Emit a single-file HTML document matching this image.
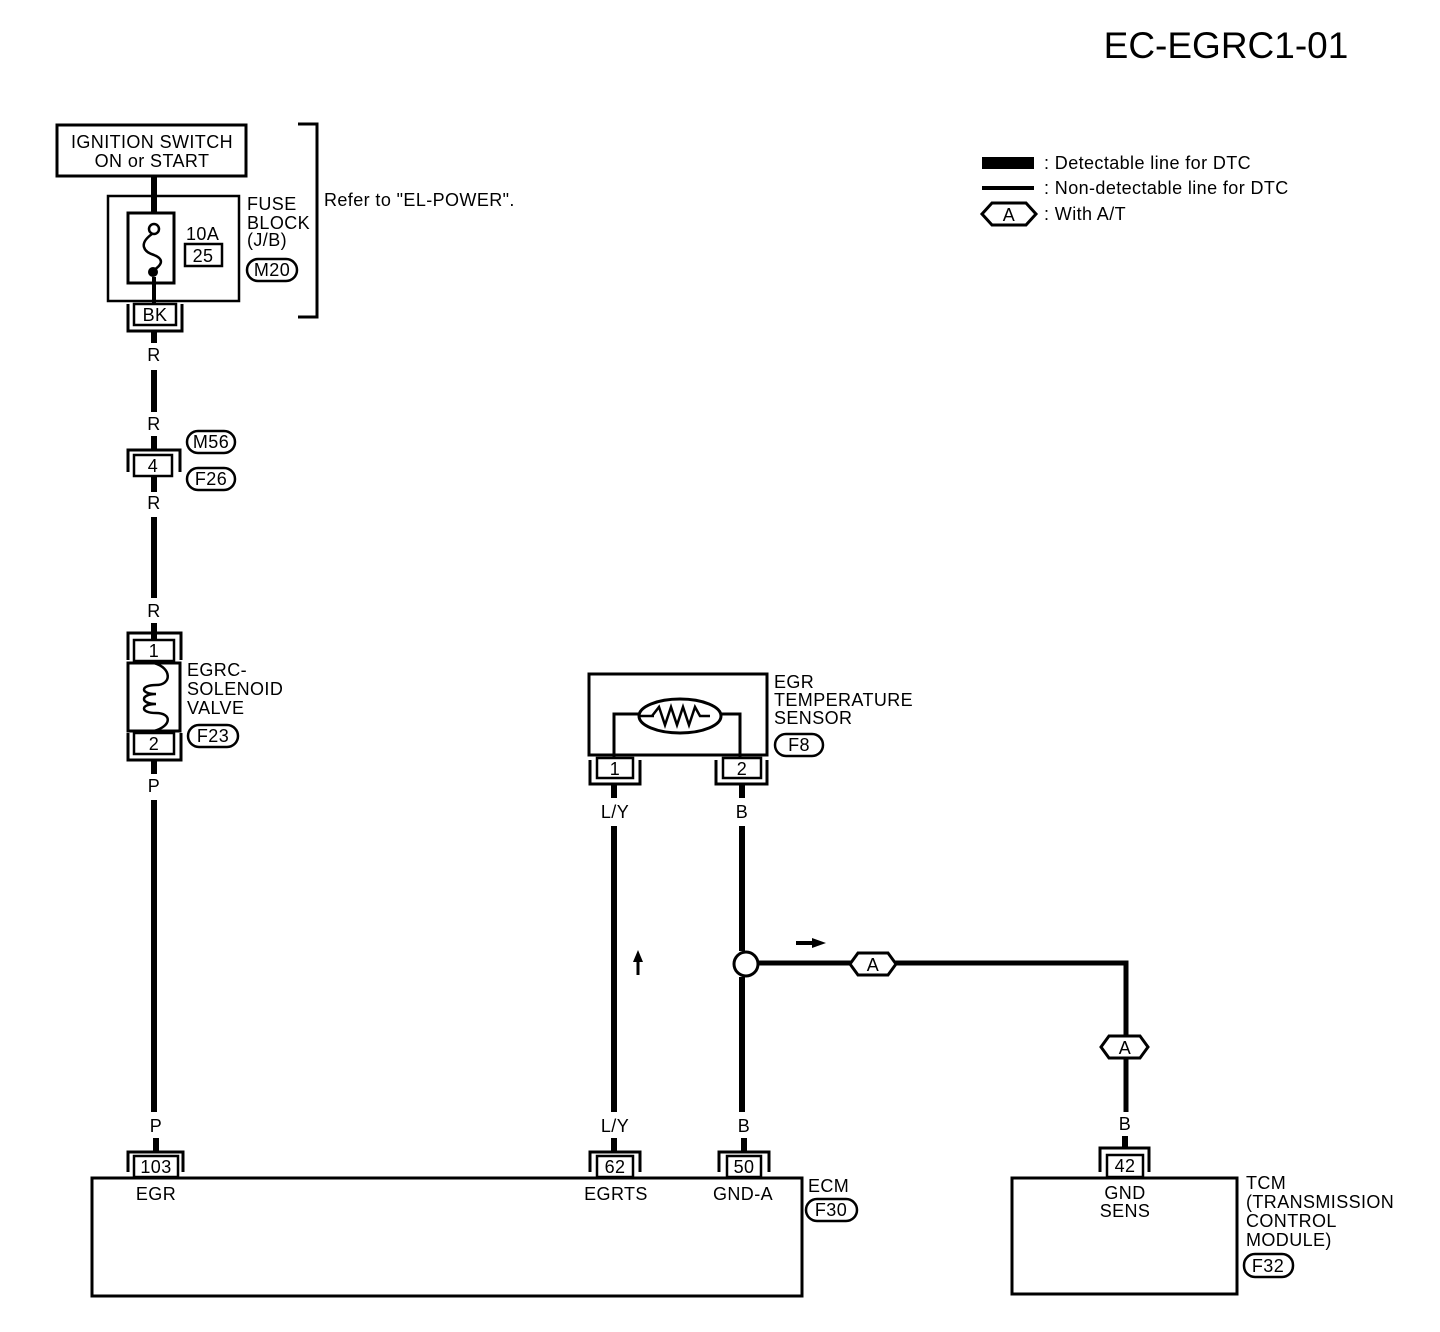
<!DOCTYPE html>
<html><head><meta charset="utf-8"><style>
html,body{margin:0;padding:0;background:#fff;}
svg{display:block;}
text{font-family:"Liberation Sans",sans-serif;font-size:18px;letter-spacing:0.4px;fill:#000;}
.c{text-anchor:middle;}
</style></head><body>
<svg width="1440" height="1332" viewBox="0 0 1440 1332" xmlns="http://www.w3.org/2000/svg">
<g fill="none" stroke="#000">
<text x="1226" y="58" class="c" style="font-size:37px;letter-spacing:0" stroke="none">EC-EGRC1-01</text>

<!-- Ignition -->
<rect x="57" y="125" width="189" height="51" stroke-width="3"/>
<text x="152" y="148" class="c" stroke="none">IGNITION SWITCH</text>
<text x="152" y="167" class="c" stroke="none">ON or START</text>
<line x1="154" y1="176" x2="154" y2="213" stroke-width="6"/>
<rect x="108" y="196" width="131" height="105" stroke-width="2.5"/>
<rect x="128" y="213" width="46" height="70" stroke-width="3"/>
<circle cx="154" cy="229" r="5" stroke-width="2.5"/>
<path d="M152 234 C138 244,144 252,154 255 C166 260,160 266,154 270" stroke-width="2.5"/>
<circle cx="153" cy="272" r="4.5" fill="#000"/>
<line x1="154" y1="277" x2="154" y2="305" stroke-width="4"/>
<text x="186" y="240" stroke="none">10A</text>
<rect x="185" y="244" width="37" height="22" stroke-width="2.5"/>
<text x="203" y="262" class="c" stroke="none">25</text>
<text x="247" y="210" stroke="none">FUSE</text>
<text x="247" y="229" stroke="none">BLOCK</text>
<text x="247" y="246" stroke="none">(J/B)</text>
<rect x="247" y="259" width="50" height="22" rx="11" stroke-width="2.5"/>
<text x="272" y="276" class="c" stroke="none">M20</text>
<path d="M298 124 H317 V317 H298" stroke-width="3"/>
<text x="324" y="206" stroke="none">Refer to "EL-POWER".</text>

<!-- BK connector -->
<rect x="134" y="304" width="42" height="21" stroke-width="2.5"/>
<text x="155" y="321" class="c" stroke="none">BK</text>
<path d="M128 304 V331 H182 V304" stroke-width="3"/>
<line x1="154" y1="331" x2="154" y2="343" stroke-width="6"/>
<text x="154" y="361" class="c" stroke="none">R</text>
<line x1="154" y1="370" x2="154" y2="412" stroke-width="6"/>
<text x="154" y="430" class="c" stroke="none">R</text>
<line x1="154" y1="436" x2="154" y2="450" stroke-width="6"/>
<!-- 4 connector -->
<path d="M128 472 V450 H180 V472" stroke-width="3"/>
<rect x="134" y="455" width="38" height="21" stroke-width="2.5"/>
<text x="153" y="472" class="c" stroke="none">4</text>
<rect x="187" y="431" width="48" height="22" rx="11" stroke-width="2.5"/>
<text x="211" y="448" class="c" stroke="none">M56</text>
<rect x="187" y="468" width="48" height="22" rx="11" stroke-width="2.5"/>
<text x="211" y="485" class="c" stroke="none">F26</text>
<line x1="154" y1="476" x2="154" y2="492" stroke-width="6"/>
<text x="154" y="509" class="c" stroke="none">R</text>
<line x1="154" y1="517" x2="154" y2="598" stroke-width="6"/>
<text x="154" y="617" class="c" stroke="none">R</text>
<line x1="154" y1="623" x2="154" y2="640" stroke-width="6"/>
<!-- solenoid -->
<path d="M128 660 V633 H181 V660" stroke-width="3"/>
<rect x="134" y="640" width="40" height="21" stroke-width="2.5"/>
<text x="154" y="657" class="c" stroke="none">1</text>
<rect x="128" y="663" width="52" height="68" stroke-width="3"/>
<path d="M154 663 C172 668,172 685,156 685 C140 685,140 694,156 694 C140 694,140 704,156 704 C140 704,140 713,156 713 C172 713,172 726,154 731" stroke-width="2.5"/>
<rect x="134" y="733" width="40" height="21" stroke-width="2.5"/>
<text x="154" y="750" class="c" stroke="none">2</text>
<path d="M128 733 V760 H181 V733" stroke-width="3"/>
<text x="187" y="676" stroke="none">EGRC-</text>
<text x="187" y="695" stroke="none">SOLENOID</text>
<text x="187" y="714" stroke="none">VALVE</text>
<rect x="188" y="725" width="50" height="22" rx="11" stroke-width="2.5"/>
<text x="213" y="742" class="c" stroke="none">F23</text>
<line x1="154" y1="760" x2="154" y2="774" stroke-width="6"/>
<text x="154" y="792" class="c" stroke="none">P</text>
<line x1="154" y1="800" x2="154" y2="1112" stroke-width="6"/>
<text x="156" y="1132" class="c" stroke="none">P</text>
<line x1="156" y1="1138" x2="156" y2="1152" stroke-width="6"/>
<path d="M128 1172 V1152 H183 V1172" stroke-width="3"/>
<rect x="134" y="1156" width="44" height="21" stroke-width="2.5"/>
<text x="156" y="1173" class="c" stroke="none">103</text>

<!-- ECM -->
<rect x="92" y="1178" width="710" height="118" stroke-width="3"/>
<text x="156" y="1200" class="c" stroke="none">EGR</text>
<text x="616" y="1200" class="c" stroke="none">EGRTS</text>
<text x="743" y="1200" class="c" stroke="none">GND-A</text>
<text x="808" y="1192" stroke="none">ECM</text>
<rect x="806" y="1199" width="51" height="22" rx="11" stroke-width="2.5"/>
<text x="831" y="1216" class="c" stroke="none">F30</text>

<!-- EGR temp sensor -->
<rect x="589" y="674" width="178" height="81" stroke-width="3"/>
<path d="M614 758 V714 H740 V758" stroke-width="3"/>
<ellipse cx="680" cy="716" rx="41" ry="17" fill="#fff" stroke-width="3"/>
<path d="M652 716 L659 707 L665 725 L671 707 L677 725 L683 707 L689 725 L695 707 L700 716 L710 716" stroke-width="2.5"/>
<line x1="640" y1="716" x2="654" y2="716" stroke-width="2.5"/>
<text x="774" y="688" stroke="none">EGR</text>
<text x="774" y="706" stroke="none">TEMPERATURE</text>
<text x="774" y="724" stroke="none">SENSOR</text>
<rect x="775" y="734" width="48" height="22" rx="11" stroke-width="2.5"/>
<text x="799" y="751" class="c" stroke="none">F8</text>
<rect x="597" y="758" width="36" height="20" stroke-width="2.5"/>
<text x="615" y="775" class="c" stroke="none">1</text>
<path d="M590 760 V784 H640 V760" stroke-width="3"/>
<rect x="723" y="758" width="38" height="20" stroke-width="2.5"/>
<text x="742" y="775" class="c" stroke="none">2</text>
<path d="M716 760 V784 H767 V760" stroke-width="3"/>
<line x1="614" y1="784" x2="614" y2="798" stroke-width="6"/>
<text x="615" y="818" class="c" stroke="none">L/Y</text>
<line x1="742" y1="784" x2="742" y2="798" stroke-width="6"/>
<text x="742" y="818" class="c" stroke="none">B</text>
<line x1="614" y1="826" x2="614" y2="1112" stroke-width="6"/>
<text x="615" y="1132" class="c" stroke="none">L/Y</text>
<line x1="614" y1="1138" x2="614" y2="1152" stroke-width="6"/>
<path d="M590 1172 V1152 H640 V1172" stroke-width="3"/>
<rect x="597" y="1156" width="36" height="21" stroke-width="2.5"/>
<text x="615" y="1173" class="c" stroke="none">62</text>
<line x1="638" y1="975" x2="638" y2="960" stroke-width="3"/>
<path d="M638 950 L633 962 L643 962 Z" fill="#000" stroke="none"/>

<line x1="742" y1="826" x2="742" y2="951" stroke-width="6"/>
<circle cx="746" cy="964" r="12" stroke-width="3"/>
<line x1="742" y1="977" x2="742" y2="1112" stroke-width="6"/>
<text x="744" y="1132" class="c" stroke="none">B</text>
<line x1="744" y1="1138" x2="744" y2="1152" stroke-width="6"/>
<path d="M719 1172 V1152 H769 V1172" stroke-width="3"/>
<rect x="727" y="1156" width="34" height="21" stroke-width="2.5"/>
<text x="744" y="1173" class="c" stroke="none">50</text>

<line x1="796" y1="943" x2="815" y2="943" stroke-width="4"/>
<path d="M826 943 L812 938 L812 948 Z" fill="#000" stroke="none"/>
<path d="M758 963 H1126 V1112" stroke-width="5"/>
<path d="M850 964 L858 953 H888 L896 964 L888 975 H858 Z" fill="#fff" stroke-width="3"/>
<text x="873" y="971" class="c" stroke="none">A</text>
<path d="M1101 1047 L1109 1036 H1140 L1148 1047 L1140 1058 H1109 Z" fill="#fff" stroke-width="3"/>
<text x="1125" y="1054" class="c" stroke="none">A</text>
<text x="1125" y="1130" class="c" stroke="none">B</text>
<path d="M1100 1172 V1148 H1149 V1172" stroke-width="3"/>
<rect x="1107" y="1155" width="36" height="22" stroke-width="2.5"/>
<text x="1125" y="1172" class="c" stroke="none">42</text>
<rect x="1122" y="1136" width="6" height="12" fill="#000" stroke="none"/>
<rect x="1012" y="1178" width="225" height="116" stroke-width="3"/>
<text x="1125" y="1199" class="c" stroke="none">GND</text>
<text x="1125" y="1217" class="c" stroke="none">SENS</text>
<text x="1246" y="1189" stroke="none">TCM</text>
<text x="1246" y="1208" stroke="none">(TRANSMISSION</text>
<text x="1246" y="1227" stroke="none">CONTROL</text>
<text x="1246" y="1246" stroke="none">MODULE)</text>
<rect x="1244" y="1254" width="49" height="23" rx="11" stroke-width="2.5"/>
<text x="1268" y="1272" class="c" stroke="none">F32</text>

<!-- legend -->
<rect x="982" y="157" width="52" height="12" fill="#000" stroke="none"/>
<text x="1044" y="169" stroke="none">: Detectable line for DTC</text>
<line x1="982" y1="188" x2="1034" y2="188" stroke-width="4"/>
<text x="1044" y="194" stroke="none">: Non-detectable line for DTC</text>
<path d="M982 214 L992 203 H1026 L1036 214 L1026 225 H992 Z" stroke-width="3"/>
<text x="1009" y="221" class="c" stroke="none">A</text>
<text x="1044" y="220" stroke="none">: With A/T</text>
</g>
</svg>
</body></html>
